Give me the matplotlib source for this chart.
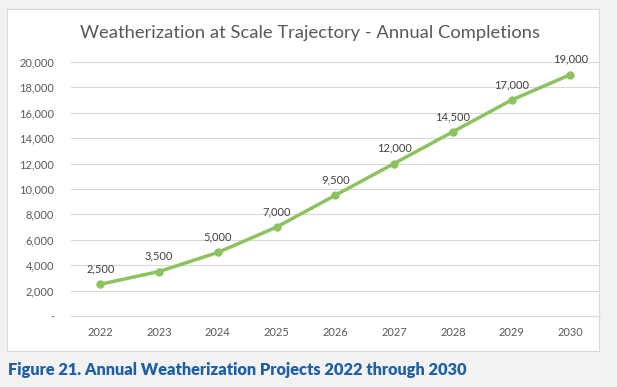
import matplotlib
matplotlib.use("Agg")
import matplotlib.pyplot as plt
from matplotlib.patches import Rectangle
from matplotlib.ticker import FuncFormatter

years = ["2022", "2023", "2024", "2025", "2026", "2027", "2028", "2029", "2030"]
completions = [2500, 3500, 5000, 7000, 9500, 12000, 14500, 17000, 19000]
yticks = list(range(0, 20001, 2000))

plt.rcParams['font.family'] = ['Lato', 'DejaVu Sans']

fig = plt.figure(figsize=(6.17, 3.87), dpi=100)
fig.patch.set_facecolor("#f2f2f2")

# white chart box behind the plot
box = fig.add_axes([0.0113, 0.093, 0.960, 0.884], zorder=0)
box.set_xticks([])
box.set_yticks([])
box.set_facecolor("white")
for s in box.spines.values():
    s.set_color("#d9d9d9")
    s.set_linewidth(0.8)

ax = fig.add_axes([0.115, 0.1835, 0.857, 0.6565], zorder=1)
ax.set_facecolor("none")
x = list(range(len(years)))
ax.plot(x, completions, color="#8dc35f", linewidth=2.5, marker="o", markersize=5, zorder=3)
for xi, v in zip(x, completions):
    ax.annotate(f"{v:,}", (xi, v), xytext=(0, 7), textcoords="offset points",
                ha="center", va="bottom", fontsize=8, color="#404040")

ax.set_xlim(-0.5, 8.5)
ax.set_ylim(0, 20000)
ax.set_yticks(yticks)
ax.yaxis.set_major_formatter(FuncFormatter(lambda v, p: "-" if v == 0 else f"{int(v):,}"))
ax.set_xticks(x)
ax.set_xticklabels(years)
ax.grid(axis="y", color="#d9d9d9", linewidth=0.8)
ax.set_axisbelow(True)
for s in ["top", "right", "left"]:
    ax.spines[s].set_visible(False)
ax.spines["bottom"].set_color("#d9d9d9")
ax.tick_params(length=0, labelsize=8, colors="#595959", pad=8)
ax.tick_params(axis="y", pad=12)

fig.text(0.503, 0.915, "Weatherization at Scale Trajectory - Annual Completions",
         ha="center", va="center", fontsize=13.2, color="#595959", zorder=2)
fig.text(0.013, 0.045, "Figure 21. Annual Weatherization Projects 2022 through 2030",
         ha="left", va="center", fontsize=11.8, color="#1f5fa8", fontweight="heavy")

fig.savefig("out.png", dpi=100, facecolor=fig.get_facecolor())
